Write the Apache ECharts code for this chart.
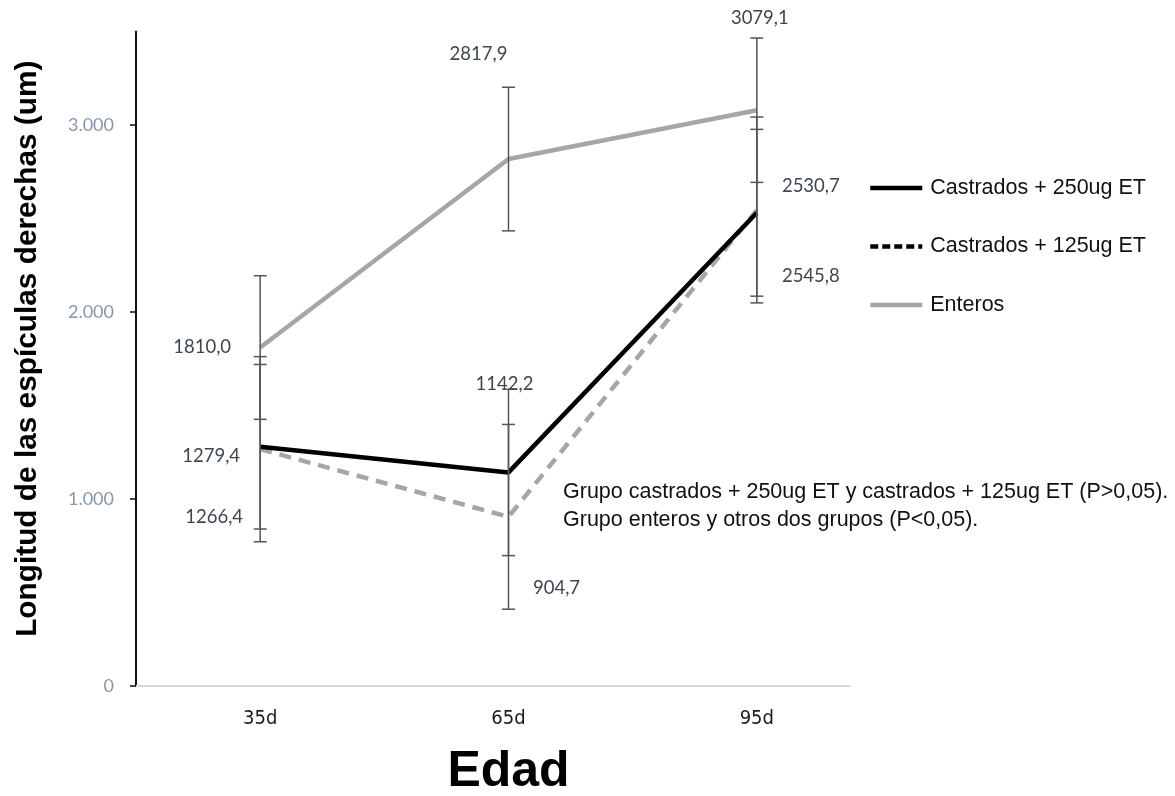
<!DOCTYPE html>
<html>
<head>
<meta charset="utf-8">
<script src="https://cdn.jsdelivr.net/npm/echarts@6/dist/echarts.min.js"></script>
<style>
  html, body { margin: 0; padding: 0; background: #fff; }
  #chart { width: 1175px; height: 796px; }
</style>
</head>
<body>
<div id="chart"></div>
<script>
// Edades de muestreo
const ages = ['35d', '65d', '95d'];

// Longitud media de las espículas derechas (um)
const castrados250 = [1279.4, 1142.2, 2530.7];
const castrados125 = [1266.4, 904.7, 2545.8];
const enteros = [1810.0, 2817.9, 3079.1];

// Desviación (barras de error) de cada grupo
const castrados250Err = [440, 445, 446];
const castrados125Err = [495, 494, 497];
const enterosErr = [384, 384, 386];

// Marcas del eje Y
const yTicks = [0, 1000, 2000, 3000];

const seriesNames = ['Castrados + 250ug ET', 'Castrados + 125ug ET', 'Enteros'];
const noteLines = [
  'Grupo castrados + 250ug ET y castrados + 125ug ET (P>0,05).',
  'Grupo enteros y otros dos grupos (P<0,05).'
];

// Desplazamiento (px) de cada etiqueta de valor respecto a su punto
const labelOffsets = {
  enteros: [[-58, 0], [-30, -105], [3, -92]],
  c250: [[-49, 9], [-4, -88], [54, -27]],
  c125: [[-46, 68], [48, 71], [54, 66]]
};

const fmtValue = v => v.toFixed(1).replace('.', ',');
const fmtTick = v => v === 0 ? '0' : (v / 1000) + '.000';

const labelFont = 'Lato, "Open Sans", sans-serif';
const arialFont = '"Liberation Sans", Arial, sans-serif';
const condFont = '"DejaVu Sans Condensed", "Liberation Sans", sans-serif';

function errorSeries(values, errs, offsets) {
  return {
    type: 'custom',
    z: 5,
    silent: true,
    data: values.map((v, i) => [i, v, errs[i], offsets[i][0], offsets[i][1]]),
    encode: { x: 0, y: 1 },
    renderItem: function (params, api) {
      const i = api.value(0), v = api.value(1), e = api.value(2);
      const top = api.coord([i, v + e]);
      const bot = api.coord([i, v - e]);
      const mid = api.coord([i, v]);
      const cap = 6.5;
      const style = { stroke: '#555555', lineWidth: 1.5 };
      return {
        type: 'group',
        children: [
          { type: 'line', shape: { x1: top[0], y1: top[1], x2: bot[0], y2: bot[1] }, style },
          { type: 'line', shape: { x1: top[0] - cap, y1: top[1], x2: top[0] + cap, y2: top[1] }, style },
          { type: 'line', shape: { x1: bot[0] - cap, y1: bot[1], x2: bot[0] + cap, y2: bot[1] }, style },
          {
            type: 'text',
            x: mid[0] + api.value(3),
            y: mid[1] + api.value(4),
            style: {
              text: fmtValue(v),
              fill: '#3f4650',
              font: '18.5px ' + labelFont,
              align: 'center',
              verticalAlign: 'middle'
            }
          }
        ]
      };
    }
  };
}

const chart = echarts.init(document.getElementById('chart'), null, { renderer: 'canvas' });

const legendLine = (color, type) => ({ color, width: 4.5, type: type || 'solid' });

const option = {
  backgroundColor: '#ffffff',
  animation: false,
  grid: { left: 136, width: 745, top: 31.5, height: 654.5, containLabel: false, outerBoundsMode: 'none' },
  legend: {
    orient: 'vertical',
    left: 868,
    top: 177,
    padding: 0,
    itemWidth: 52,
    itemHeight: 14,
    itemGap: 36.5,
    itemStyle: { opacity: 0 },
    textStyle: { fontFamily: arialFont, fontSize: 21.5, color: '#111', padding: [0, 0, 0, 3] },
    data: [
      { name: seriesNames[0], lineStyle: legendLine('#000') },
      { name: seriesNames[1], lineStyle: legendLine('#000', [8, 4]) },
      { name: seriesNames[2], lineStyle: legendLine('#a6a6a6') }
    ]
  },
  xAxis: {
    type: 'category',
    data: ages,
    boundaryGap: true,
    axisLine: { show: false },
    axisTick: { show: false },
    axisLabel: { color: '#1a1a1a', fontSize: 20, fontFamily: condFont, margin: 23 },
    name: 'Edad',
    nameLocation: 'middle',
    nameGap: 61,
    nameTextStyle: { fontSize: 50, fontWeight: 'bold', color: '#000', fontFamily: arialFont }
  },
  yAxis: {
    type: 'value',
    min: 0,
    max: 3500,
    interval: 500,
    splitLine: { show: false },
    axisLine: { show: true, lineStyle: { color: '#111', width: 2 } },
    axisTick: { show: true, customValues: yTicks, length: 6, lineStyle: { color: '#111', width: 1.5 } },
    axisLabel: {
      customValues: yTicks,
      formatter: fmtTick,
      color: '#8797ad',
      fontSize: 18,
      fontFamily: labelFont,
      margin: 22
    },
    name: 'Longitud de las espículas derechas (um)',
    nameLocation: 'middle',
    nameGap: 93,
    nameRotate: 90,
    nameTextStyle: { fontSize: 29.8, fontWeight: 'bold', color: '#000', fontFamily: arialFont, padding: [0, 0, 0, 20] }
  },
  series: [
    {
      name: seriesNames[2], type: 'line', data: enteros, symbol: 'none',
      lineStyle: { color: '#a6a6a6', width: 4.5 }, itemStyle: { color: '#a6a6a6' }, z: 2
    },
    {
      name: seriesNames[1], type: 'line', data: castrados125, symbol: 'none',
      lineStyle: { color: '#a6a6a6', width: 4.5, type: [12, 8] }, itemStyle: { color: '#000' }, z: 3
    },
    {
      name: seriesNames[0], type: 'line', data: castrados250, symbol: 'none',
      lineStyle: { color: '#000', width: 4.5 }, itemStyle: { color: '#000' }, z: 4
    },
    errorSeries(enteros, enterosErr, labelOffsets.enteros),
    errorSeries(castrados250, castrados250Err, labelOffsets.c250),
    errorSeries(castrados125, castrados125Err, labelOffsets.c125)
  ]
};

chart.setOption(option);

// Línea base del eje X y nota de significación
const origin = chart.convertToPixel({ xAxisIndex: 0, yAxisIndex: 0 }, [0, 0]);
const firstCat = chart.convertToPixel({ xAxisIndex: 0 }, 0);
const lastCat = chart.convertToPixel({ xAxisIndex: 0 }, 2);
const halfBand = (lastCat - firstCat) / 4;
chart.setOption({
  graphic: [
    {
      type: 'line',
      shape: { x1: firstCat - halfBand, y1: origin[1], x2: lastCat + halfBand * 0.76, y2: origin[1] },
      style: { stroke: '#d9d9d9', lineWidth: 2 },
      z: 1
    },
    {
      type: 'text',
      left: 563,
      top: 478,
      style: {
        text: noteLines.join('\n'),
        font: '21.5px ' + arialFont,
        fill: '#111',
        lineHeight: 28
      }
    }
  ]
});
</script>
</body>
</html>
